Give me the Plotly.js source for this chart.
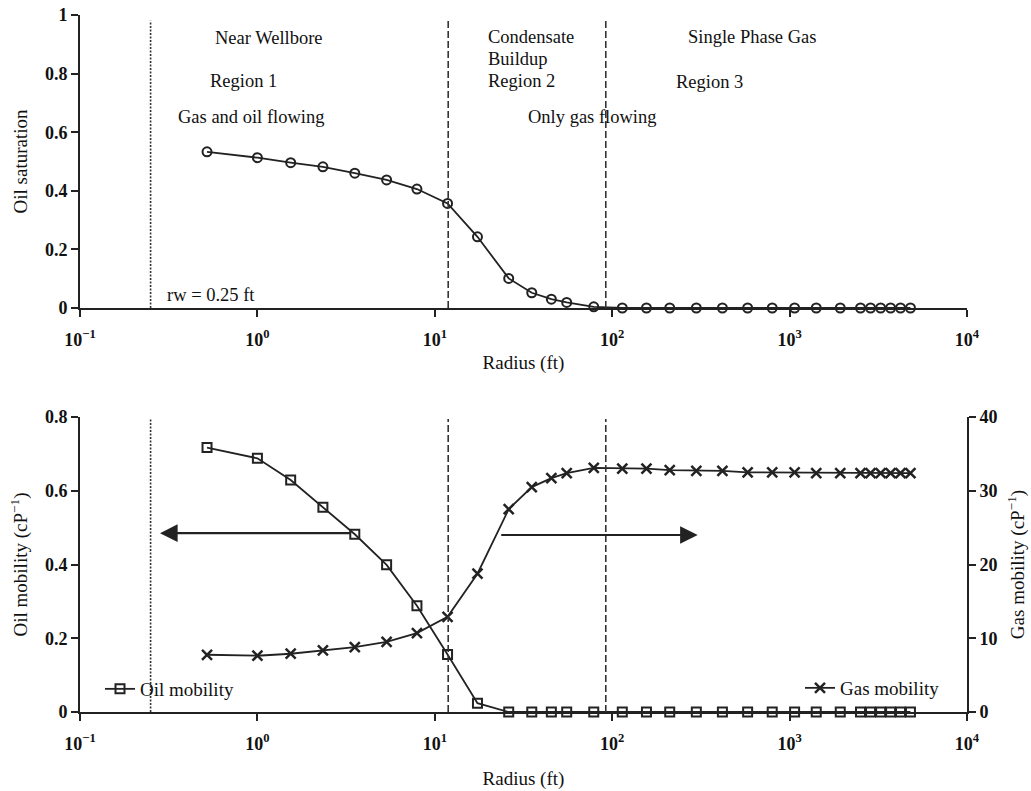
<!DOCTYPE html>
<html><head><meta charset="utf-8">
<script src="https://cdn.plot.ly/plotly-3.0.1.min.js"></script>
<style>html,body{margin:0;padding:0;background:#fff}#chart{width:1031px;height:791px}</style>
</head><body><div id="chart"></div>
<script>
// ---- data ----
const radius = [0.52, 1.0, 1.54, 2.34, 3.54, 5.35, 7.93, 11.8, 17.4, 26.1, 35.2, 45.4, 55.4, 78.7,
  114, 156, 211, 298, 418, 580, 798, 1067, 1413, 1930, 2510, 2860, 3260, 3710, 4220, 4800];
const oilSaturation = [0.533, 0.513, 0.496, 0.482, 0.460, 0.437, 0.406, 0.357, 0.243, 0.101, 0.052, 0.030, 0.019, 0.004,
  0, 0, 0, 0, 0, 0, 0, 0, 0, 0, 0, 0, 0, 0, 0, 0];
const oilMobility = [0.717, 0.688, 0.629, 0.555, 0.482, 0.399, 0.288, 0.156, 0.024, 0.0,
  0, 0, 0, 0, 0, 0, 0, 0, 0, 0, 0, 0, 0, 0, 0, 0, 0, 0, 0, 0];
const gasMobility = [7.76, 7.63, 7.9, 8.35, 8.8, 9.5, 10.7, 12.9, 18.75, 27.5, 30.5, 31.7, 32.4, 33.1,
  33.0, 33.0, 32.8, 32.7, 32.7, 32.5, 32.5, 32.5, 32.4, 32.4, 32.4, 32.4, 32.4, 32.4, 32.4, 32.4];
const wellboreRadius = 0.25;
const regionBounds = [11.9, 92];
const xTickVals = [0.1, 1, 10, 100, 1000, 10000];
const xTickText = ['10<sup>\u22121</sup>', '10<sup>0</sup>', '10<sup>1</sup>', '10<sup>2</sup>', '10<sup>3</sup>', '10<sup>4</sup>'];
const seriesNames = ['Oil saturation', 'Oil mobility', 'Gas mobility'];

// ---- styling ----
const F = 'Liberation Serif, Times New Roman, serif';
const INK = '#222';
const TXT = '#111';
const tickFont = {family: F, size: 18, color: TXT, weight: 700};
const titleFont = {family: F, size: 19, color: TXT};
const baseAxis = {showline: true, linecolor: INK, linewidth: 2, ticks: 'outside', ticklen: 7, tickwidth: 2,
  tickcolor: INK, showgrid: false, zeroline: false, tickfont: tickFont, fixedrange: true};
const xDomain = [80/1031, 967/1031];

const traces = [
  {x: radius, y: oilSaturation, name: seriesNames[0], xaxis: 'x', yaxis: 'y', mode: 'lines+markers',
   showlegend: false, cliponaxis: false,
   line: {color: INK, width: 1.8},
   marker: {symbol: 'circle-open', size: 9, color: INK, line: {width: 2, color: INK}}},
  {x: radius, y: oilMobility, name: seriesNames[1], xaxis: 'x2', yaxis: 'y2', mode: 'lines+markers',
   legend: 'legend', cliponaxis: false,
   line: {color: INK, width: 1.8},
   marker: {symbol: 'square-open', size: 9, color: INK, line: {width: 2, color: INK}}},
  {x: radius, y: gasMobility, name: seriesNames[2], xaxis: 'x2', yaxis: 'y3', mode: 'lines+markers',
   legend: 'legend2', cliponaxis: false,
   line: {color: INK, width: 1.8},
   marker: {symbol: 'x-thin', size: 10, color: INK, line: {width: 2.5, color: INK}}}
];

function vline(xv, xr, yr, top, dash) {
  return {type: 'line', xref: xr, yref: yr + ' domain', x0: xv, x1: xv, y0: 0, y1: top,
    line: {color: '#333', width: 1.6, dash: dash}};
}
const shapes = [
  vline(wellboreRadius, 'x', 'y', 0.98, '2px,1.5px'),
  vline(regionBounds[0], 'x', 'y', 0.98, '7px,3px'),
  vline(regionBounds[1], 'x', 'y', 0.98, '7px,3px'),
  vline(wellboreRadius, 'x2', 'y2', 0.993, '2px,1.5px'),
  vline(regionBounds[0], 'x2', 'y2', 0.993, '7px,3px'),
  vline(regionBounds[1], 'x2', 'y2', 0.993, '7px,3px')
];

const annFont = {family: F, size: 18.5, color: TXT};
function label(text, x, y, xanchor) {
  return {text: text, xref: 'x', yref: 'y', x: x, y: y, showarrow: false, font: annFont,
    xanchor: xanchor || 'center', yanchor: 'middle'};
}
function arrow(xHead, xTail, y) {
  return {text: '', xref: 'x2', yref: 'y2', axref: 'x2', ayref: 'y2', x: xHead, y: y, ax: xTail, ay: y,
    showarrow: true, arrowhead: 2, arrowsize: 1.6, arrowwidth: 2.2, arrowcolor: INK};
}
const annotations = [
  label('Near Wellbore', 0.065, 0.9215),
  label('Region 1', -0.076, 0.776),
  label('Gas and oil flowing', -0.038, 0.652),
  label('rw = 0.25 ft', -0.262, 0.044),
  label('Condensate', 1.291, 0.926, 'left'),
  label('Buildup', 1.291, 0.849, 'left'),
  label('Region 2', 1.291, 0.775, 'left'),
  label('Only gas flowing', 1.885, 0.652),
  label('Single Phase Gas', 2.786, 0.925),
  label('Region 3', 2.549, 0.771),
  arrow(-0.549, 0.532, 0.485),
  arrow(2.482, 1.366, 0.48)
];

const xCommon = Object.assign({}, baseAxis, {type: 'log', range: [-1, 4], domain: xDomain,
  tickmode: 'array', tickvals: xTickVals, ticktext: xTickText, ticklabelstandoff: 7});

const layout = {
  width: 1031, height: 791,
  margin: {l: 0, r: 0, t: 0, b: 0},
  paper_bgcolor: '#fff', plot_bgcolor: 'rgba(0,0,0,0)',
  font: {family: F, color: TXT},
  hovermode: false,
  xaxis: Object.assign({}, xCommon, {anchor: 'y', title: {text: 'Radius (ft)', font: titleFont, standoff: 7}}),
  yaxis: Object.assign({}, baseAxis, {range: [0, 1], dtick: 0.2, tick0: 0, domain: [1 - 308/791, 1 - 15/791], anchor: 'x',
    title: {text: 'Oil saturation', font: titleFont, standoff: 12}}),
  xaxis2: Object.assign({}, xCommon, {anchor: 'y2', title: {text: 'Radius (ft)', font: titleFont, standoff: 19}}),
  yaxis2: Object.assign({}, baseAxis, {range: [0, 0.8], dtick: 0.2, tick0: 0, domain: [1 - 712/791, 1 - 417/791], anchor: 'x2',
    title: {text: 'Oil mobility (cP<sup>\u22121</sup>)', font: titleFont, standoff: 12}}),
  yaxis3: Object.assign({}, baseAxis, {range: [0, 40], dtick: 10, tick0: 0, overlaying: 'y2', side: 'right', anchor: 'x2',
    title: {text: 'Gas mobility (cP<sup>\u22121</sup>)', font: titleFont, standoff: 14}}),
  legend: {x: 100/1031, y: 1 - 689/791, xanchor: 'left', yanchor: 'middle', bgcolor: 'rgba(0,0,0,0)',
    font: {family: F, size: 19, color: TXT}, itemwidth: 30},
  legend2: {x: 800/1031, y: 1 - 688/791, xanchor: 'left', yanchor: 'middle', bgcolor: 'rgba(0,0,0,0)',
    font: {family: F, size: 19, color: TXT}, itemwidth: 30},
  shapes: shapes,
  annotations: annotations
};

Plotly.newPlot('chart', traces, layout, {displayModeBar: false, staticPlot: true});
</script>
</body></html>
